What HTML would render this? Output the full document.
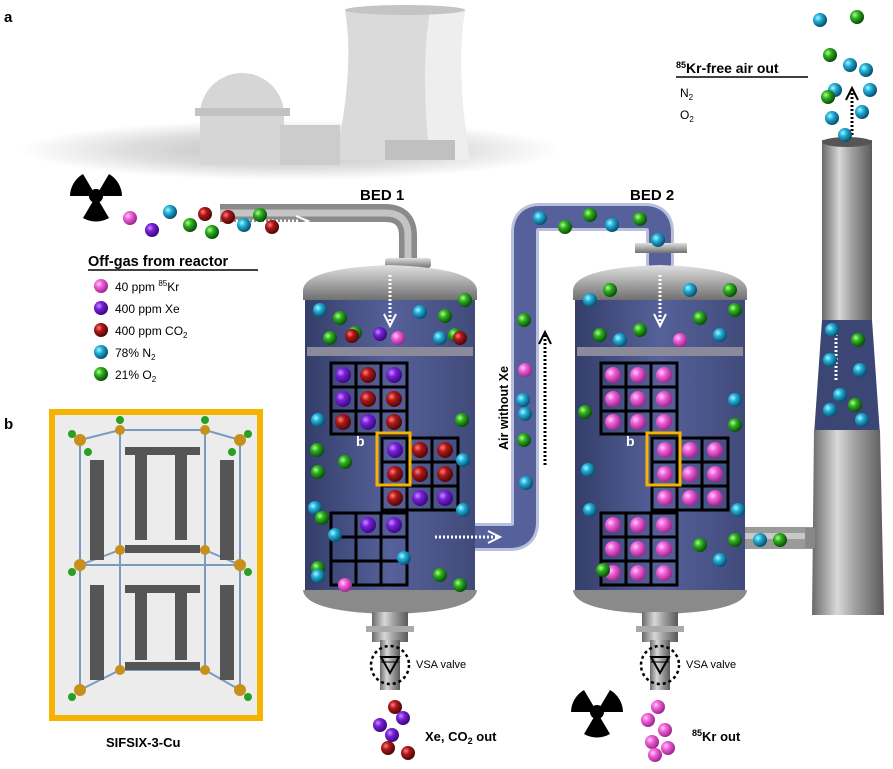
<!DOCTYPE html>
<html><head><meta charset="utf-8"><style>
body{margin:0;background:#fff}
svg{display:block;font-family:"Liberation Sans",Arial,sans-serif}
</style></head><body>
<svg width="893" height="769" viewBox="0 0 893 769" xmlns="http://www.w3.org/2000/svg">
<defs>
<radialGradient id="pk" cx="35%" cy="35%" r="65%"><stop offset="0" stop-color="#ffd0f5"/><stop offset=".4" stop-color="#f060d8"/><stop offset="1" stop-color="#a02890"/></radialGradient>
<radialGradient id="pu" cx="35%" cy="35%" r="65%"><stop offset="0" stop-color="#c890ff"/><stop offset=".4" stop-color="#7a20d8"/><stop offset="1" stop-color="#3a0a80"/></radialGradient>
<radialGradient id="rd" cx="35%" cy="35%" r="65%"><stop offset="0" stop-color="#ff8080"/><stop offset=".4" stop-color="#b01818"/><stop offset="1" stop-color="#500808"/></radialGradient>
<radialGradient id="cy" cx="35%" cy="35%" r="65%"><stop offset="0" stop-color="#b0f4ff"/><stop offset=".4" stop-color="#20b0d8"/><stop offset="1" stop-color="#0a5070"/></radialGradient>
<radialGradient id="gr" cx="35%" cy="35%" r="65%"><stop offset="0" stop-color="#b0ff90"/><stop offset=".4" stop-color="#30b020"/><stop offset="1" stop-color="#0a5008"/></radialGradient>
<linearGradient id="metal" x1="0" x2="1"><stop offset="0" stop-color="#6a6a6a"/><stop offset=".35" stop-color="#d8d8d8"/><stop offset=".6" stop-color="#a0a0a0"/><stop offset="1" stop-color="#5a5a5a"/></linearGradient>
<linearGradient id="metalv" x1="0" y1="0" x2="0" y2="1"><stop offset="0" stop-color="#e0e0e0"/><stop offset=".5" stop-color="#a8a8a8"/><stop offset="1" stop-color="#707070"/></linearGradient>
<linearGradient id="body" x1="0" x2="1"><stop offset="0" stop-color="#343e6a"/><stop offset=".5" stop-color="#56619a"/><stop offset="1" stop-color="#404a7a"/></linearGradient>
<radialGradient id="ground" cx="50%" cy="50%" r="50%"><stop offset="0" stop-color="#bdbdbd"/><stop offset=".6" stop-color="#dedede"/><stop offset="1" stop-color="#fff"/></radialGradient>
<g id="rad"><circle r="7" fill="#000"/><path d="M0,0 L-13,-22 A26,26 0 0 0 -26,0 Z M0,0 L26,0 A26,26 0 0 0 13,-22 Z M0,0 L13,22 A26,26 0 0 1 -13,22 Z" fill="#000"/></g>
</defs>

<!-- power plant -->
<ellipse cx="290" cy="150" rx="270" ry="30" fill="url(#ground)"/>
<path d="M345,10 L465,10 Q455,70 470,160 L335,160 Q355,70 345,10Z" fill="#dadada"/>
<path d="M345,10 L465,10 Q455,70 470,160 L430,160 Q420,70 430,10Z" fill="#eeeeee"/>
<ellipse cx="405" cy="10" rx="60" ry="5" fill="#c4c4c4"/>
<path d="M200,165 L200,115 A42,42 0 0 1 284,115 L284,165Z" fill="#d6d6d6"/>
<rect x="195" y="108" width="95" height="8" fill="#c2c2c2"/>
<rect x="280" y="125" width="60" height="40" fill="#cccccc"/>
<rect x="385" y="140" width="70" height="20" fill="#c0c0c0"/>

<text x="4" y="22" font-size="15" font-weight="bold">a</text>
<text x="4" y="429" font-size="15" font-weight="bold">b</text>

<use href="#rad" x="96" y="196"/>
<use href="#rad" x="597" y="712"/>

<!-- pipe in -->
<path d="M220,213 L385,213 Q408,213 408,236 L408,262" stroke="#8a8a8a" stroke-width="18" fill="none"/>
<path d="M220,213 L385,213 Q408,213 408,236 L408,262" stroke="#c4c4c4" stroke-width="7" fill="none"/>
<rect x="385" y="258" width="46" height="10" rx="3" fill="url(#metalv)"/>
<path d="M228,221 L300,221" stroke="#fff" stroke-width="3" stroke-dasharray="2,2"/>
<path d="M296,216 L308,221 L296,226" stroke="#fff" stroke-width="2" fill="none"/>

<!-- connecting tube -->
<path d="M475,537 L510,537 Q525,537 525,522 L525,232 Q525,217 540,217 L645,217 Q660,217 660,232 L660,270" stroke="#b8c0dc" stroke-width="28" fill="none"/>
<path d="M475,537 L510,537 Q525,537 525,522 L525,232 Q525,217 540,217 L645,217 Q660,217 660,232 L660,270" stroke="#56609a" stroke-width="22" fill="none"/>
<rect x="635" y="243" width="52" height="10" fill="url(#metalv)"/>
<!-- pipe to tower -->
<rect x="745" y="527" width="75" height="22" fill="#9a9a9a"/>
<rect x="745" y="533" width="75" height="6" fill="#c8c8c8"/>

<!-- tower -->
<rect x="822" y="140" width="50" height="300" fill="url(#metal)"/>
<ellipse cx="847" cy="142" rx="25" ry="5" fill="#555"/>
<path d="M822,320 L872,320 L880,435 L814,435Z" fill="#3c4675"/>
<path d="M814,430 L880,430 L884,615 L812,615Z" fill="url(#metal)"/>
<rect x="805" y="528" width="10" height="20" fill="#888"/>

<!-- tanks -->
<g id="tank">
<rect x="305" y="285" width="170" height="310" fill="url(#body)"/>
<path d="M303,290 Q305,268 390,265 Q475,268 477,290 L477,300 L303,300Z" fill="url(#metalv)"/>
<path d="M303,590 L477,590 Q475,612 390,614 Q305,612 303,590Z" fill="#8a8a8a"/>
<rect x="307" y="347" width="166" height="9" fill="#8a8a9a"/>
<rect x="372" y="612" width="36" height="30" fill="url(#metal)"/>
<rect x="366" y="626" width="48" height="6" fill="#aaa"/>
<rect x="380" y="640" width="20" height="50" fill="url(#metal)"/>
<circle cx="390" cy="665" r="19" fill="none" stroke="#000" stroke-width="2.5" stroke-dasharray="3,3"/>
<path d="M381,657 L399,657 L390,673Z" fill="none" stroke="#000" stroke-width="2"/>
<line x1="381" y1="662" x2="399" y2="662" stroke="#000" stroke-width="1"/>
<text x="416" y="668" font-size="11">VSA valve</text>
</g>
<use href="#tank" x="270" y="0"/>

<!-- tower arrows -->
<path d="M836,330 L836,380" stroke="#fff" stroke-width="3" stroke-dasharray="2,2"/>
<path d="M852,135 L852,90" stroke="#000" stroke-width="3" stroke-dasharray="2,2"/>
<path d="M846,100 L852,88 L858,100" stroke="#000" stroke-width="2" fill="none"/>

<!-- arrows -->
<path d="M390,275 L390,325" stroke="#fff" stroke-width="3" stroke-dasharray="2,2"/>
<path d="M384,314 L390,326 L396,314" stroke="#fff" stroke-width="2" fill="none"/>
<path d="M660,275 L660,325" stroke="#fff" stroke-width="3" stroke-dasharray="2,2"/>
<path d="M654,314 L660,326 L666,314" stroke="#fff" stroke-width="2" fill="none"/>
<path d="M435,537 L498,537" stroke="#fff" stroke-width="3" stroke-dasharray="2,2"/>
<path d="M488,531 L500,537 L488,543" stroke="#fff" stroke-width="2" fill="none"/>
<path d="M545,465 L545,335" stroke="#000" stroke-width="3" stroke-dasharray="2,2"/>
<path d="M539,344 L545,332 L551,344" stroke="#000" stroke-width="2" fill="none"/>
<text transform="translate(508,450) rotate(-90)" font-size="12.5" font-weight="bold">Air without Xe</text>

<!-- grids -->
<g fill="none" stroke="#000" stroke-width="3">
<rect x="331" y="363" width="76" height="71"/><path d="M356,363V434M381,363V434M331,387H407M331,411H407"/>
<rect x="382" y="438" width="76" height="72"/><path d="M407,438V510M432,438V510M382,462H458M382,486H458"/>
<rect x="331" y="513" width="76" height="72"/><path d="M356,513V585M381,513V585M331,537H407M331,561H407"/>
<rect x="601" y="363" width="76" height="71"/><path d="M626,363V434M651,363V434M601,387H677M601,411H677"/>
<rect x="652" y="438" width="76" height="72"/><path d="M677,438V510M702,438V510M652,462H728M652,486H728"/>
<rect x="601" y="513" width="76" height="72"/><path d="M626,513V585M651,513V585M601,537H677M601,561H677"/>
</g>
<g>
<circle cx="343" cy="375" r="8" fill="url(#pu)"/><circle cx="368" cy="375" r="8" fill="url(#rd)"/><circle cx="394" cy="375" r="8" fill="url(#pu)"/>
<circle cx="343" cy="399" r="8" fill="url(#pu)"/><circle cx="368" cy="399" r="8" fill="url(#rd)"/><circle cx="394" cy="399" r="8" fill="url(#rd)"/>
<circle cx="343" cy="422" r="8" fill="url(#rd)"/><circle cx="368" cy="422" r="8" fill="url(#pu)"/><circle cx="394" cy="422" r="8" fill="url(#rd)"/>
<circle cx="395" cy="450" r="8" fill="url(#pu)"/><circle cx="420" cy="450" r="8" fill="url(#rd)"/><circle cx="445" cy="450" r="8" fill="url(#rd)"/>
<circle cx="395" cy="474" r="8" fill="url(#rd)"/><circle cx="420" cy="474" r="8" fill="url(#rd)"/><circle cx="445" cy="474" r="8" fill="url(#rd)"/>
<circle cx="395" cy="498" r="8" fill="url(#rd)"/><circle cx="420" cy="498" r="8" fill="url(#pu)"/><circle cx="445" cy="498" r="8" fill="url(#pu)"/>
<circle cx="368" cy="525" r="8" fill="url(#pu)"/><circle cx="394" cy="525" r="8" fill="url(#pu)"/>
</g>
<g fill="url(#pk)">
<circle cx="613" cy="375" r="8"/><circle cx="638" cy="375" r="8"/><circle cx="664" cy="375" r="8"/>
<circle cx="613" cy="399" r="8"/><circle cx="638" cy="399" r="8"/><circle cx="664" cy="399" r="8"/>
<circle cx="613" cy="422" r="8"/><circle cx="638" cy="422" r="8"/><circle cx="664" cy="422" r="8"/>
<circle cx="665" cy="450" r="8"/><circle cx="690" cy="450" r="8"/><circle cx="715" cy="450" r="8"/>
<circle cx="665" cy="474" r="8"/><circle cx="690" cy="474" r="8"/><circle cx="715" cy="474" r="8"/>
<circle cx="665" cy="498" r="8"/><circle cx="690" cy="498" r="8"/><circle cx="715" cy="498" r="8"/>
<circle cx="613" cy="525" r="8"/><circle cx="638" cy="525" r="8"/><circle cx="664" cy="525" r="8"/>
<circle cx="613" cy="549" r="8"/><circle cx="638" cy="549" r="8"/><circle cx="664" cy="549" r="8"/>
<circle cx="613" cy="573" r="8"/><circle cx="638" cy="573" r="8"/><circle cx="664" cy="573" r="8"/>
</g>
<rect x="377" y="433" width="33" height="52" fill="none" stroke="#f5b400" stroke-width="3"/>
<rect x="647" y="433" width="33" height="52" fill="none" stroke="#f5b400" stroke-width="3"/>
<text x="356" y="446" font-size="14" font-weight="bold" fill="#fff">b</text>
<text x="626" y="446" font-size="14" font-weight="bold" fill="#fff">b</text>

<!-- loose spheres -->
<g>
<circle cx="130" cy="218" r="7" fill="url(#pk)"/><circle cx="152" cy="230" r="7" fill="url(#pu)"/><circle cx="170" cy="212" r="7" fill="url(#cy)"/><circle cx="190" cy="225" r="7" fill="url(#gr)"/><circle cx="205" cy="214" r="7" fill="url(#rd)"/><circle cx="212" cy="232" r="7" fill="url(#gr)"/><circle cx="228" cy="217" r="7" fill="url(#rd)"/><circle cx="244" cy="225" r="7" fill="url(#cy)"/><circle cx="260" cy="215" r="7" fill="url(#gr)"/><circle cx="272" cy="227" r="7" fill="url(#rd)"/>
<circle cx="320" cy="310" r="7" fill="url(#cy)"/><circle cx="340" cy="318" r="7" fill="url(#gr)"/><circle cx="355" cy="333" r="7" fill="url(#gr)"/><circle cx="330" cy="338" r="7" fill="url(#gr)"/><circle cx="352" cy="336" r="7" fill="url(#rd)"/><circle cx="380" cy="334" r="7" fill="url(#pu)"/><circle cx="398" cy="338" r="7" fill="url(#pk)"/><circle cx="420" cy="312" r="7" fill="url(#cy)"/><circle cx="445" cy="316" r="7" fill="url(#gr)"/><circle cx="455" cy="335" r="7" fill="url(#gr)"/><circle cx="440" cy="338" r="7" fill="url(#cy)"/><circle cx="465" cy="300" r="7" fill="url(#gr)"/><circle cx="460" cy="338" r="7" fill="url(#rd)"/>
<circle cx="318" cy="420" r="7" fill="url(#cy)"/><circle cx="317" cy="450" r="7" fill="url(#gr)"/><circle cx="345" cy="462" r="7" fill="url(#gr)"/><circle cx="318" cy="472" r="7" fill="url(#gr)"/><circle cx="462" cy="420" r="7" fill="url(#gr)"/><circle cx="463" cy="460" r="7" fill="url(#cy)"/><circle cx="315" cy="508" r="7" fill="url(#cy)"/><circle cx="322" cy="518" r="7" fill="url(#gr)"/><circle cx="463" cy="510" r="7" fill="url(#cy)"/><circle cx="335" cy="535" r="7" fill="url(#cy)"/><circle cx="404" cy="558" r="7" fill="url(#cy)"/><circle cx="318" cy="568" r="7" fill="url(#gr)"/><circle cx="318" cy="576" r="7" fill="url(#cy)"/><circle cx="345" cy="585" r="7" fill="url(#pk)"/><circle cx="440" cy="575" r="7" fill="url(#gr)"/><circle cx="460" cy="585" r="7" fill="url(#gr)"/>
<circle cx="524" cy="320" r="7" fill="url(#gr)"/><circle cx="525" cy="370" r="7" fill="url(#pk)"/><circle cx="523" cy="400" r="7" fill="url(#cy)"/><circle cx="525" cy="414" r="7" fill="url(#cy)"/><circle cx="524" cy="440" r="7" fill="url(#gr)"/><circle cx="526" cy="483" r="7" fill="url(#cy)"/><circle cx="540" cy="218" r="7" fill="url(#cy)"/><circle cx="565" cy="227" r="7" fill="url(#gr)"/><circle cx="590" cy="215" r="7" fill="url(#gr)"/><circle cx="612" cy="225" r="7" fill="url(#cy)"/><circle cx="640" cy="219" r="7" fill="url(#gr)"/><circle cx="658" cy="240" r="7" fill="url(#cy)"/>
<circle cx="590" cy="300" r="7" fill="url(#cy)"/><circle cx="610" cy="290" r="7" fill="url(#gr)"/><circle cx="600" cy="335" r="7" fill="url(#gr)"/><circle cx="620" cy="340" r="7" fill="url(#cy)"/><circle cx="640" cy="330" r="7" fill="url(#gr)"/><circle cx="680" cy="340" r="7" fill="url(#pk)"/><circle cx="700" cy="318" r="7" fill="url(#gr)"/><circle cx="720" cy="335" r="7" fill="url(#cy)"/><circle cx="735" cy="310" r="7" fill="url(#gr)"/><circle cx="690" cy="290" r="7" fill="url(#cy)"/><circle cx="730" cy="290" r="7" fill="url(#gr)"/>
<circle cx="585" cy="412" r="7" fill="url(#gr)"/><circle cx="588" cy="470" r="7" fill="url(#cy)"/><circle cx="735" cy="400" r="7" fill="url(#cy)"/><circle cx="735" cy="425" r="7" fill="url(#gr)"/><circle cx="738" cy="510" r="7" fill="url(#cy)"/><circle cx="590" cy="510" r="7" fill="url(#cy)"/><circle cx="603" cy="570" r="7" fill="url(#gr)"/><circle cx="700" cy="545" r="7" fill="url(#gr)"/><circle cx="720" cy="560" r="7" fill="url(#cy)"/><circle cx="735" cy="540" r="7" fill="url(#gr)"/><circle cx="760" cy="540" r="7" fill="url(#cy)"/><circle cx="780" cy="540" r="7" fill="url(#gr)"/>
<circle cx="832" cy="330" r="7" fill="url(#cy)"/><circle cx="858" cy="340" r="7" fill="url(#gr)"/><circle cx="830" cy="360" r="7" fill="url(#cy)"/><circle cx="860" cy="370" r="7" fill="url(#cy)"/><circle cx="840" cy="395" r="7" fill="url(#cy)"/><circle cx="855" cy="405" r="7" fill="url(#gr)"/><circle cx="830" cy="410" r="7" fill="url(#cy)"/><circle cx="862" cy="420" r="7" fill="url(#cy)"/>
<circle cx="820" cy="20" r="7" fill="url(#cy)"/><circle cx="857" cy="17" r="7" fill="url(#gr)"/><circle cx="830" cy="55" r="7" fill="url(#gr)"/><circle cx="850" cy="65" r="7" fill="url(#cy)"/><circle cx="866" cy="70" r="7" fill="url(#cy)"/><circle cx="835" cy="90" r="7" fill="url(#cy)"/><circle cx="828" cy="97" r="7" fill="url(#gr)"/><circle cx="870" cy="90" r="7" fill="url(#cy)"/><circle cx="832" cy="118" r="7" fill="url(#cy)"/><circle cx="862" cy="112" r="7" fill="url(#cy)"/><circle cx="845" cy="135" r="7" fill="url(#cy)"/>
<circle cx="395" cy="707" r="7" fill="url(#rd)"/><circle cx="403" cy="718" r="7" fill="url(#pu)"/><circle cx="380" cy="725" r="7" fill="url(#pu)"/><circle cx="392" cy="735" r="7" fill="url(#pu)"/><circle cx="388" cy="748" r="7" fill="url(#rd)"/><circle cx="408" cy="753" r="7" fill="url(#rd)"/>
<circle cx="658" cy="707" r="7" fill="url(#pk)"/><circle cx="648" cy="720" r="7" fill="url(#pk)"/><circle cx="665" cy="730" r="7" fill="url(#pk)"/><circle cx="652" cy="742" r="7" fill="url(#pk)"/><circle cx="668" cy="748" r="7" fill="url(#pk)"/><circle cx="655" cy="755" r="7" fill="url(#pk)"/>
</g>

<!-- legend -->
<text x="88" y="266" font-size="14.5" font-weight="bold">Off-gas from reactor</text>
<line x1="88" y1="270" x2="258" y2="270" stroke="#000" stroke-width="1.5"/>
<circle cx="101" cy="286" r="7" fill="url(#pk)"/><text x="115" y="291" font-size="12">40 ppm <tspan font-size="8" dy="-5">85</tspan><tspan dy="5">Kr</tspan></text>
<circle cx="101" cy="308" r="7" fill="url(#pu)"/><text x="115" y="313" font-size="12">400 ppm Xe</text>
<circle cx="101" cy="330" r="7" fill="url(#rd)"/><text x="115" y="335" font-size="12">400 ppm CO<tspan font-size="8" dy="3">2</tspan></text>
<circle cx="101" cy="352" r="7" fill="url(#cy)"/><text x="115" y="357" font-size="12">78% N<tspan font-size="8" dy="3">2</tspan></text>
<circle cx="101" cy="374" r="7" fill="url(#gr)"/><text x="115" y="379" font-size="12">21% O<tspan font-size="8" dy="3">2</tspan></text>

<text x="360" y="200" font-size="15" font-weight="bold">BED 1</text>
<text x="630" y="200" font-size="15" font-weight="bold">BED 2</text>
<text x="676" y="73" font-size="14" font-weight="bold"><tspan font-size="9" dy="-5">85</tspan><tspan dy="5">Kr-free air out</tspan></text>
<line x1="676" y1="77" x2="808" y2="77" stroke="#000" stroke-width="1.5"/>
<text x="680" y="97" font-size="12">N<tspan font-size="8" dy="3">2</tspan></text>
<text x="680" y="119" font-size="12">O<tspan font-size="8" dy="3">2</tspan></text>
<text x="425" y="741" font-size="13" font-weight="bold">Xe, CO<tspan font-size="9" dy="3">2</tspan><tspan dy="-3"> out</tspan></text>
<text x="692" y="741" font-size="13" font-weight="bold"><tspan font-size="9" dy="-5">85</tspan><tspan dy="5">Kr out</tspan></text>

<!-- panel b -->
<rect x="52" y="412" width="208" height="306" fill="#ececec" stroke="#f5b400" stroke-width="6"/>
<g stroke="#7a9ac0" stroke-width="2" fill="none">
<path d="M80,440 L120,430 L205,430 L240,440 M80,440 L80,690 M240,440 L240,690 M80,690 L120,670 L205,670 L240,690 M120,430 L120,670 M205,430 L205,670"/>
<path d="M80,565 L120,550 L205,550 L240,565 L80,565"/>
</g>
<g fill="#555">
<rect x="90" y="460" width="14" height="100"/><rect x="220" y="460" width="14" height="100"/>
<rect x="90" y="585" width="14" height="95"/><rect x="220" y="585" width="14" height="95"/>
<rect x="125" y="447" width="75" height="8"/><rect x="125" y="545" width="75" height="8"/><rect x="125" y="585" width="75" height="8"/><rect x="125" y="662" width="75" height="8"/>
<rect x="135" y="455" width="12" height="85"/><rect x="175" y="455" width="12" height="85"/>
<rect x="135" y="590" width="12" height="70"/><rect x="175" y="590" width="12" height="70"/>
</g>
<g fill="#c8901a"><circle cx="80" cy="440" r="6"/><circle cx="240" cy="440" r="6"/><circle cx="120" cy="430" r="5"/><circle cx="205" cy="430" r="5"/><circle cx="80" cy="565" r="6"/><circle cx="240" cy="565" r="6"/><circle cx="120" cy="550" r="5"/><circle cx="205" cy="550" r="5"/><circle cx="80" cy="690" r="6"/><circle cx="240" cy="690" r="6"/><circle cx="120" cy="670" r="5"/><circle cx="205" cy="670" r="5"/></g>
<g fill="#2aa020"><circle cx="72" cy="434" r="4"/><circle cx="248" cy="434" r="4"/><circle cx="72" cy="572" r="4"/><circle cx="248" cy="572" r="4"/><circle cx="72" cy="697" r="4"/><circle cx="248" cy="697" r="4"/><circle cx="120" cy="420" r="4"/><circle cx="205" cy="420" r="4"/><circle cx="88" cy="452" r="4"/><circle cx="232" cy="452" r="4"/></g>
<text x="106" y="747" font-size="13" font-weight="bold">SIFSIX-3-Cu</text>
</svg>
</body></html>
